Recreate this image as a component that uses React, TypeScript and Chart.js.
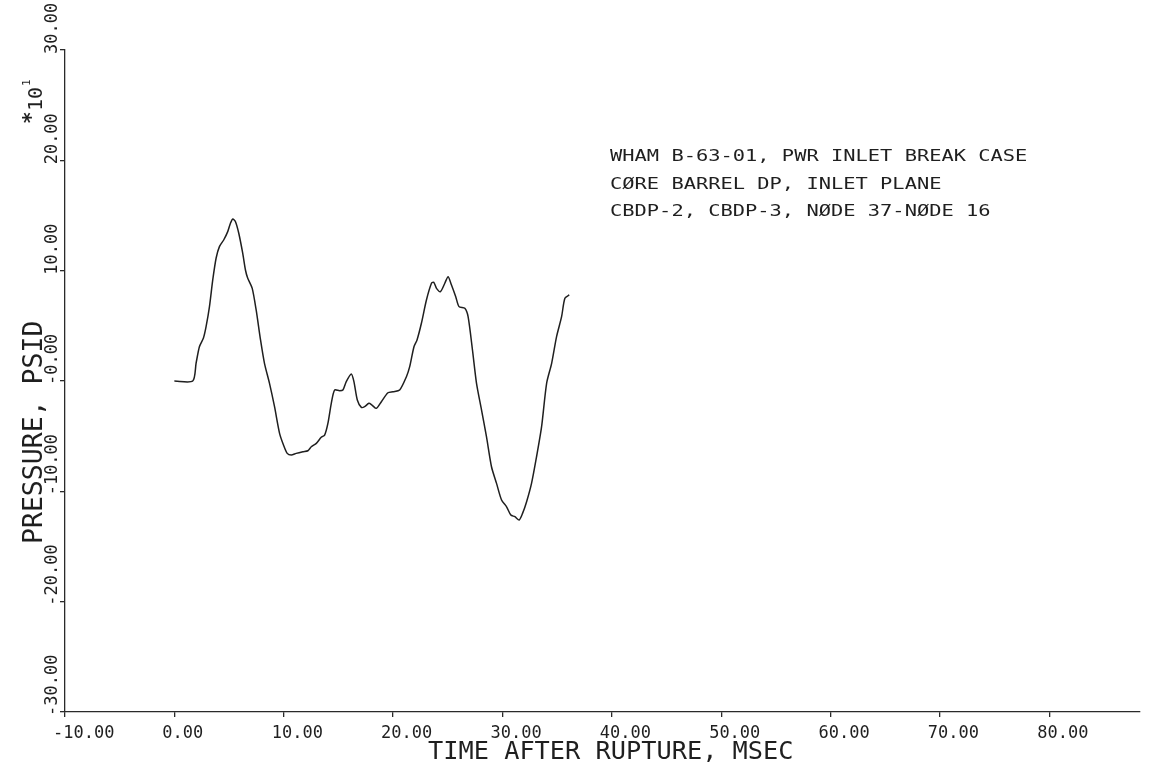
import { useEffect, useRef } from "react";
import { Chart, registerables } from "chart.js";

Chart.register(...registerables);

// ---- data ----
const timeMs = [
  0, 1.68, 1.99, 2.29, 2.66, 2.9, 3.21, 3.51, 3.82, 4.12, 4.51, 4.88, 5.13, 5.34, 5.59, 5.89,
  6.25, 6.5, 6.71, 7.12, 7.48, 7.88, 8.24, 8.7, 9.16, 9.62, 9.98, 10.32, 10.69, 11.14, 11.75,
  12.21, 12.52, 12.98, 13.43, 13.74, 14.04, 14.35, 14.65, 15.11, 15.41, 15.72, 16.18, 16.42,
  16.73, 17.1, 17.4, 17.79, 18.07, 18.47, 18.93, 19.53, 19.99, 20.6, 21.22, 21.52, 21.91, 22.19,
  22.59, 23.05, 23.51, 23.72, 23.97, 24.33, 24.73, 25.03, 25.34, 25.73, 26.03, 26.56, 26.86,
  27.26, 27.63, 28.09, 28.54, 29.0, 29.46, 29.92, 30.38, 30.77, 31.14, 31.53, 31.84, 32.21,
  32.66, 33.12, 33.58, 34.04, 34.5, 34.95, 35.41, 35.71, 36.11,
];
const pressure = [
  0, 0, 1.63, 3.11, 3.9, 4.92, 6.74, 9.16, 11.15, 12.18, 12.78, 13.54, 14.3, 14.69, 14.44, 13.39,
  11.58, 10.06, 9.31, 8.4, 6.44, 3.72, 1.6, -0.21, -2.33, -4.74, -5.8, -6.56, -6.71, -6.56, -6.41,
  -6.32, -5.96, -5.65, -5.1, -4.9, -3.84, -2.02, -0.82, -0.88, -0.82, -0.06, 0.63, -0.06,
  -1.72, -2.39, -2.33, -2.02, -2.18, -2.48, -1.88, -1.06, -0.97, -0.82, 0.39, 1.3, 3.11, 3.72,
  5.23, 7.34, 8.86, 8.95, 8.4, 8.1, 8.86, 9.46, 8.7, 7.64, 6.74, 6.59, 5.83,
  2.81, -0.21, -2.63, -5.05, -7.77, -9.28, -10.79, -11.4, -12.15, -12.3, -12.6, -12.0, -10.94,
  -9.28, -6.86, -4.14, -0.21, 1.6, 4.02, 5.83, 7.5, 7.8,
];

const xTickValues = [-10, 0, 10, 20, 30, 40, 50, 60, 70, 80];
const xTickLabels = ["-10.00", "0.00", "10.00", "20.00", "30.00", "40.00", "50.00", "60.00", "70.00", "80.00"];
const yTickValues = [-30, -20, -10, 0, 10, 20, 30];
const yTickLabels = ["-30.00", "-20.00", "-10.00", "-0.00", "10.00", "20.00", "30.00"];

const xAxisTitle = "TIME AFTER RUPTURE, MSEC";
const yAxisTitle = "PRESSURE, PSID";
const yScaleNote = "10";
const yScaleExp = "1";
const noteLines = [
  "WHAM B-63-01, PWR INLET BREAK CASE",
  "CØRE BARREL DP, INLET PLANE",
  "CBDP-2, CBDP-3, NØDE 37-NØDE 16",
];

const MONO = '"DejaVu Sans Mono", "Liberation Mono", monospace';
const INK = "#1f1f1f";

function drawText(
  ctx: CanvasRenderingContext2D,
  s: string,
  x: number,
  y: number,
  size: number,
  rot = 0,
  sy = 1,
  bold = false
) {
  ctx.save();
  ctx.translate(x, y);
  if (rot) ctx.rotate(rot);
  if (sy !== 1) ctx.scale(1, sy);
  ctx.font = `${bold ? "bold " : ""}${size}px ${MONO}`;
  ctx.textAlign = "left";
  ctx.textBaseline = "alphabetic";
  ctx.fillStyle = INK;
  ctx.fillText(s, 0, 0);
  ctx.restore();
}

const textPlugin = {
  id: "plotterText",
  afterDraw(chart: any) {
    const ctx: CanvasRenderingContext2D = chart.ctx;
    const xs = chart.scales.x;
    const ys = chart.scales.y;
    const up = -Math.PI / 2;

    // x tick labels
    xTickValues.forEach((v, i) => {
      const px = xs.getPixelForValue(v);
      drawText(ctx, xTickLabels[i], px - 12, 738, 17);
    });
    // y tick labels (rotated, reading upward)
    yTickValues.forEach((v, i) => {
      const py = ys.getPixelForValue(v);
      drawText(ctx, yTickLabels[i], 57, py + 4, 17, up);
    });

    // axis titles
    drawText(ctx, xAxisTitle, 428, 759, 25.3);
    drawText(ctx, yAxisTitle, 42, 544, 26.5, up);

    // scale note  *10^1
    drawText(ctx, "*", 38, 124, 21, up, 1, true);
    drawText(ctx, yScaleNote, 42, 111, 20, up);
    drawText(ctx, yScaleExp, 30, 86, 11, up);

    // annotation block
    noteLines.forEach((line, i) => {
      drawText(ctx, line, 610, 161 + i * 27.5, 20.4, 0, 0.8);
    });
  },
};

export default function App() {
  const ref = useRef<HTMLCanvasElement | null>(null);

  useEffect(() => {
    if (!ref.current) return;
    const axisColor = "#2a2a2a";
    const chart = new Chart(ref.current, {
      type: "line",
      data: {
        datasets: [
          {
            data: timeMs.map((t, i) => ({ x: t, y: pressure[i] })),
            borderColor: INK,
            borderWidth: 1.5,
            pointRadius: 0,
            tension: 0.25,
            fill: false,
          },
        ],
      },
      options: {
        animation: false,
        responsive: false,
        devicePixelRatio: 1,
        layout: { padding: { top: 50, right: 10, left: 0, bottom: 0 } },
        plugins: { legend: { display: false }, tooltip: { enabled: false } },
        scales: {
          x: {
            type: "linear",
            min: -10,
            max: 88.3,
            afterBuildTicks: (s: any) => {
              s.ticks = xTickValues.map((v) => ({ value: v }));
            },
            afterFit: (s: any) => {
              s.height = 56;
            },
            ticks: { display: false },
            grid: { drawOnChartArea: false, drawTicks: true, tickLength: 5, color: axisColor, lineWidth: 1.3 },
            border: { display: true, color: axisColor, width: 1.3 },
          },
          y: {
            type: "linear",
            min: -30,
            max: 30,
            afterBuildTicks: (s: any) => {
              s.ticks = yTickValues.map((v) => ({ value: v }));
            },
            afterFit: (s: any) => {
              s.width = 65;
            },
            ticks: { display: false },
            grid: { drawOnChartArea: false, drawTicks: true, tickLength: 5, color: axisColor, lineWidth: 1.3 },
            border: { display: true, color: axisColor, width: 1.3 },
          },
        },
      },
      plugins: [textPlugin],
    } as any);
    return () => chart.destroy();
  }, []);

  return (
    <div style={{ position: "fixed", left: 0, top: 0, width: 1150, height: 768, background: "#fff" }}>
      <canvas ref={ref} width={1150} height={768} />
    </div>
  );
}
